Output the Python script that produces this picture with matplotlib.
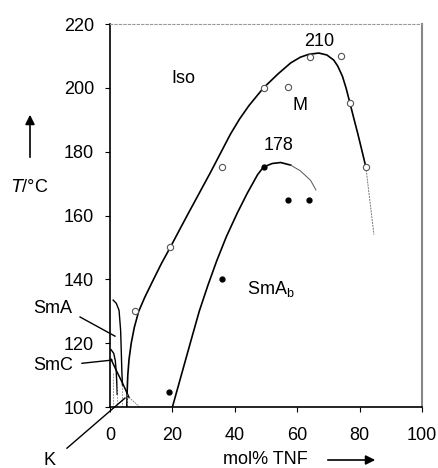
import numpy as np
import matplotlib
matplotlib.use("Agg")
import matplotlib.pyplot as plt

plt.rcParams['font.family'] = ['Liberation Sans', 'DejaVu Sans']

# --- messpunkte ---
# offene Kreise (Klärpunkte)
iso_x = [8, 19.3, 36, 49.2, 57, 64, 74, 76.8, 82]
iso_T = [130, 150.2, 175.2, 200, 200.3, 209.8, 210, 195.2, 175.2]
# gefüllte Punkte (SmAb)
sma_x = [19, 36, 49.2, 57, 63.7]
sma_T = [104.6, 140, 175.2, 165, 165]

# Phasengrenze Iso / M
outer_x = [5.4, 5.5, 5.7, 6.1, 6.8, 7.8, 9.2, 11.2, 13.8, 16.5, 19.3, 22.0,
           25.0, 28.6, 32.2, 35.4, 38.6, 41.5, 44.5, 49.2, 54.0, 57.9, 61.0,
           63.7, 66.9, 69.5, 71.7, 73.0, 74.5, 75.7, 76.8, 78.1, 79.4, 80.7, 82.0]
outer_T = [100, 105, 110, 115, 120, 125, 130, 134.5, 139.7, 145, 150, 155,
           160.5, 167, 173.5, 179.5, 185.5, 190.2, 194.4, 200, 204.5, 207.8, 209.6,
           210.5, 210.9, 210.3, 208.7, 206.8, 203.6, 199.8, 195.6, 190.6, 185.7, 180.5, 175.2]
outer_thin_x = [82.0, 83.3, 84.6]
outer_thin_T = [175.2, 164.5, 154]

# Phasengrenze M / SmAb
inner_x = [20, 22, 24, 26, 28.6, 31.4, 34.2, 37.3, 40.8, 44, 47.3, 49.2, 52,
           54.7, 57.9]
inner_T = [100, 107, 114, 121, 130, 138.2, 145.8, 153.4, 160.8, 167, 172.8, 175.2,
           176.3, 176.6, 175.8]
inner_thin_x = [57.9, 61, 64.3, 66]
inner_thin_T = [175.8, 174, 171, 168]

# kleine Phasen links (SmA, SmC)
smA_x = [1.0, 2.0, 2.9, 3.4, 3.6, 3.8, 4.0]
smA_T = [133.5, 132.5, 130.3, 124, 117.8, 111, 106.8]
smC_x = [0.3, 1.2, 1.7, 2.0, 2.2, 2.3]
smC_T = [118, 116.8, 114.5, 111, 107, 104]
diag_x = [0.3, 2.0, 4.0, 6.1]
diag_T = [115, 111.5, 107.5, 103]
diag_thin_x = [6.1, 9.5]
diag_thin_T = [103, 100]
dash_x = [1.0, 2.3, 3.8, 5.4]
dash_top = [111, 108, 106.8, 104]

fig = plt.figure(figsize=(4.39, 4.68), dpi=100)
ax = fig.add_axes([0.2506, 0.1303, 0.7107, 0.8184])

ax.plot(outer_x, outer_T, color='black', lw=1.2)
ax.plot(outer_thin_x, outer_thin_T, color='#777777', lw=0.7, ls=(0, (2, 1)))
ax.plot(inner_x, inner_T, color='black', lw=1.2)
ax.plot(inner_thin_x, inner_thin_T, color='#555555', lw=0.7)
ax.plot(smA_x, smA_T, color='black', lw=1.0)
ax.plot(smC_x, smC_T, color='black', lw=1.0)
ax.plot(diag_x, diag_T, color='black', lw=1.1)
ax.plot(diag_thin_x, diag_thin_T, color='#777777', lw=0.6, ls=(0, (2, 1)))
for xd, td in zip(dash_x, dash_top):
    ax.plot([xd, xd], [100, td], color='#888888', lw=0.6, ls=(0, (2, 1.5)))

ax.plot(iso_x, iso_T, 'o', ms=4.5, mfc='white', mec='#555555', mew=0.8)
ax.plot(sma_x, sma_T, 'o', ms=3.5, color='black')

ax.set_xlim(0, 100)
ax.set_ylim(100, 220)
ax.set_xticks([0, 20, 40, 60, 80, 100])
ax.set_yticks([100, 120, 140, 160, 180, 200, 220])
ax.tick_params(axis='both', direction='out', length=3.5, width=0.8, labelsize=13)
ax.tick_params(axis='x', pad=11)
ax.tick_params(axis='y', pad=8)
ax.spines['top'].set_linestyle((0, (2, 2)))
ax.spines['top'].set_color('#999999')
ax.spines['right'].set_color('#888888')
ax.spines['right'].set_linewidth(1.5)
ax.spines['left'].set_linewidth(1.2)
ax.spines['bottom'].set_linewidth(1.2)

fs = 13
ax.text(23.5, 203, 'Iso', fontsize=fs, ha='center', va='center')
ax.text(61, 194.6, 'M', fontsize=fs, ha='center', va='center')
ax.text(67, 214.5, '210', fontsize=fs, ha='center', va='center')
ax.text(54, 182, '178', fontsize=fs, ha='center', va='center')
ax.text(51.5, 137, r'SmA$_\mathregular{b}$', fontsize=fs, ha='center', va='center')

ax.text(-18.3, 131, 'SmA', fontsize=fs, ha='center', va='center', clip_on=False)
ax.text(-18.3, 113, 'SmC', fontsize=fs, ha='center', va='center', clip_on=False)
ax.text(-19.3, 83.3, 'K', fontsize=fs, ha='center', va='center', clip_on=False)
ax.plot([-9.6, 1.6], [128.2, 122.2], color='black', lw=1.0, clip_on=False)
ax.plot([-9.0, 0.6], [113.7, 114.7], color='black', lw=1.0, clip_on=False)
ax.plot([-13.8, 4.8], [87.1, 102.8], color='black', lw=1.0, clip_on=False)

# Achsenbeschriftung mit Pfeilen
fig.text(30 / 439, 1 - 187 / 468, r'$\mathit{T}$/°C', fontsize=fs, ha='center', va='center')
fig.patches.append(matplotlib.patches.FancyArrowPatch(
    (30 / 439, 1 - 160 / 468), (30 / 439, 1 - 112 / 468), transform=fig.transFigure,
    arrowstyle='-|>', mutation_scale=14, color='black', lw=1.2))
fig.text(265 / 439, 1 - 460 / 468, 'mol% TNF', fontsize=fs, ha='center', va='center')
fig.patches.append(matplotlib.patches.FancyArrowPatch(
    (325 / 439, 1 - 460 / 468), (378 / 439, 1 - 460 / 468), transform=fig.transFigure,
    arrowstyle='-|>', mutation_scale=14, color='black', lw=1.2))

fig.savefig('out.png', dpi=100)
